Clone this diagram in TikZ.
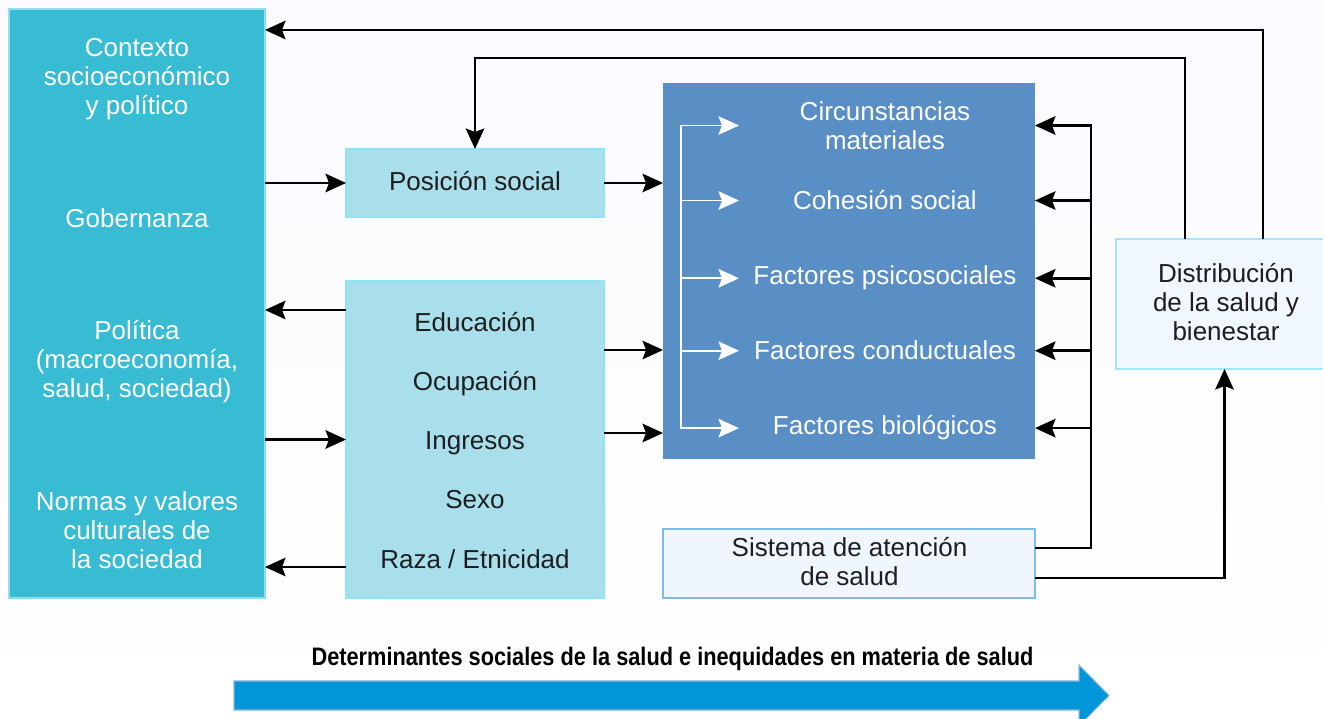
\documentclass[tikz,border=0pt]{standalone}
\usepackage{fontspec}
\setmainfont{Liberation Sans}
\newfontfamily\titlefont[FakeStretch=0.86]{Liberation Sans}
\usetikzlibrary{arrows.meta}

\definecolor{CtxFill}{HTML}{38BCD4}
\definecolor{CtxLine}{HTML}{8CE0F2}
\definecolor{PosFill}{HTML}{A9DEEB}
\definecolor{PosLine}{HTML}{8FE4F7}
\definecolor{DetFill}{HTML}{5A8FC6}
\definecolor{SisFill}{HTML}{EFF6FE}
\definecolor{SisLine}{HTML}{7FBDE6}
\definecolor{DisFill}{HTML}{F0F7FD}
\definecolor{DisLine}{HTML}{A3E6F7}
\definecolor{BandFill}{HTML}{0096D8}
\definecolor{BandLine}{HTML}{8FB8D6}
\definecolor{TextDark}{HTML}{1E1E1E}

\newcommand\diagfont{\fontsize{14.8pt}{16.5pt}\selectfont}

\begin{document}
\begin{tikzpicture}[x=0.02cm,y=-0.02cm]
  \tikzset{BoxStyle/.style   = {shape          = rectangle,
                                inner sep      = 0pt,
                                outer sep      = 0pt,
                                line width     = 1.2pt}}
  \tikzset{WhiteText/.style  = {text           = white,
                                align          = center,
                                inner sep      = 0pt,
                                font           = \diagfont}}
  \tikzset{DarkText/.style   = {text           = TextDark,
                                align          = center,
                                inner sep      = 0pt,
                                font           = \diagfont}}
  \tikzset{HeadTip/.tip      = {Stealth[length=0.41cm, width=0.37cm, inset=0.07cm]}}
  \tikzset{EdgeStyle/.style  = {line width     = 1.4pt,
                                -HeadTip}}
  \tikzset{WhiteEdge/.style  = {line width     = 1pt,
                                draw           = white,
                                -HeadTip}}

\clip (0,0) rectangle (1323,719);
\fill[top color=black!4!blue!2!white, bottom color=white] (0,0) rectangle (1323,719);

% boxes
\node[BoxStyle, fill=CtxFill, draw=CtxLine, minimum width=5.12cm, minimum height=11.78cm] (ctx) at (137,303.5) {};
\node[BoxStyle, fill=PosFill, draw=PosLine, minimum width=5.16cm, minimum height=1.36cm] (pos) at (475,183) {};
\node[BoxStyle, fill=PosFill, draw=PosLine, minimum width=5.16cm, minimum height=6.34cm] (edu) at (475,439.5) {};
\node[BoxStyle, fill=DetFill, minimum width=7.44cm, minimum height=7.52cm] (det) at (849,271) {};
\node[BoxStyle, fill=SisFill, draw=SisLine, minimum width=7.44cm, minimum height=1.38cm] (sis) at (849,563.5) {};
\node[BoxStyle, fill=DisFill, draw=DisLine, minimum width=4.34cm, minimum height=2.6cm] (dis) at (1224.5,304) {};

% texts
\node[WhiteText] (ctxA) at (137,78.7) {Contexto\\socioeconómico\\y político};
\node[WhiteText, anchor=base] (ctxB) at (137,228) {Gobernanza};
\node[WhiteText] (ctxC) at (137,362) {Política\\(macroeconomía,\\salud, sociedad)};
\node[WhiteText] (ctxD) at (137,530.5) {Normas y valores\\culturales de\\la sociedad};

\node[DarkText, anchor=base] (posA) at (475,190.7) {Posición social};
\node[DarkText, anchor=base] (eduA) at (475,332) {Educación};
\node[DarkText, anchor=base] (eduB) at (475,391) {Ocupación};
\node[DarkText, anchor=base] (eduC) at (475,450) {Ingresos};
\node[DarkText, anchor=base] (eduD) at (475,509) {Sexo};
\node[DarkText, anchor=base] (eduE) at (475,569) {Raza / Etnicidad};

\node[WhiteText] (c1) at (885,125.5) {Circunstancias\\materiales};
\node[WhiteText, anchor=base] (c2) at (885,210) {Cohesión social};
\node[WhiteText, anchor=base] (c3) at (885,285) {Factores psicosociales};
\node[WhiteText, anchor=base] (c4) at (885,360) {Factores conductuales};
\node[WhiteText, anchor=base] (c5) at (885,435) {Factores biológicos};

\node[DarkText] (sisA) at (849.5,562) {Sistema de atención\\de salud};
\node[DarkText] (disA) at (1226,302.5) {Distribución\\de la salud y\\bienestar};

\coordinate (T1) at (1263,30);
\coordinate (T2) at (1185,58);
\coordinate (R1) at (0,310);
\coordinate (R2) at (0,567);
\coordinate (R3) at (0,350);
\coordinate (R4) at (0,433);
\coordinate (S1) at (0,548);
\coordinate (S2) at (0,578);
\coordinate (wb) at (681,0);
\coordinate (wt) at (739,0);
\coordinate (rb) at (1091,0);

% connectors
\draw[EdgeStyle] (dis.north -| T1) |- (ctx.east |- T1);
\draw[EdgeStyle] (dis.north -| T2) |- (pos.north |- T2) -- (pos.north);
\draw[EdgeStyle] (ctx.east |- pos.west) -- (pos.west);
\draw[EdgeStyle] (pos.east) -- (det.west |- pos.east);
\draw[EdgeStyle] (edu.west |- R1) -- (ctx.east |- R1);
\draw[EdgeStyle] (ctx.east |- edu.west) -- (edu.west);
\draw[EdgeStyle] (edu.west |- R2) -- (ctx.east |- R2);
\draw[EdgeStyle] (edu.east |- R3) -- (det.west |- R3);
\draw[EdgeStyle] (edu.east |- R4) -- (det.west |- R4);

\draw[WhiteEdge, HeadTip-HeadTip] (wt |- c1) -| (wb |- c5) -- (wt |- c5);
\draw[WhiteEdge] (wb |- c2) -- (wt |- c2);
\draw[WhiteEdge] (wb |- c3) -- (wt |- c3);
\draw[WhiteEdge] (wb |- c4) -- (wt |- c4);

\draw[EdgeStyle] (sis.east |- S1) -| (rb |- c1) -- (det.east |- c1);
\draw[EdgeStyle] (rb |- c2) -- (det.east |- c2);
\draw[EdgeStyle] (rb |- c3) -- (det.east |- c3);
\draw[EdgeStyle] (rb |- c4) -- (det.east |- c4);
\draw[EdgeStyle] (rb |- c5) -- (det.east |- c5);
\draw[EdgeStyle] (sis.east |- S2) -| (dis.south);

% band
\node[anchor=base, inner sep=0pt, font=\titlefont\bfseries\fontsize{14.4pt}{16pt}\selectfont] (band) at (672.5,665)
  {Determinantes sociales de la salud e inequidades en materia de salud};
\draw[fill=BandFill, draw=BandLine, line width=0.6pt] (234,681) -- (1079,681) -- (1079,665) -- (1109,695.5)
  -- (1079,726) -- (1079,710) -- (234,710) -- cycle;
\end{tikzpicture}
\end{document}
